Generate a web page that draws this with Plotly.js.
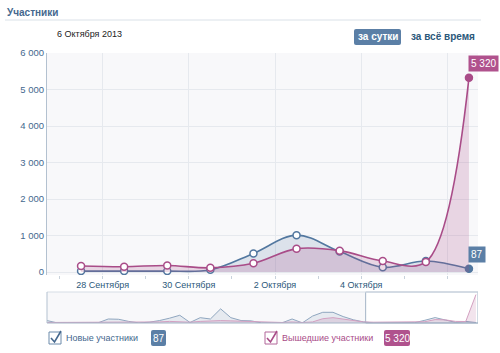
<!DOCTYPE html>
<html>
<head>
<meta charset="utf-8">
<script src="https://cdn.plot.ly/plotly-3.0.1.min.js"></script>
<style>html,body{margin:0;padding:0;background:#fff;}#chart{width:500px;height:353px;}</style>
</head>
<body>
<div id="chart"></div>
<script>
// ---- data ----
const days = ['27 Сентября','28 Сентября','29 Сентября','30 Сентября','1 Октября','2 Октября','3 Октября','4 Октября','5 Октября','6 Октября'];
const newMembers  = [25, 25, 25, 60, 510, 1010, 560, 130, 300, 87];
const leftMembers = [165, 145, 180, 115, 240, 640, 585, 300, 275, 5320];
const tickPos   = [0.5, 2.5, 4.5, 6.5, 8.5];
const tickLabels = ['28 Сентября', '30 Сентября', '2 Октября', '4 Октября', ''];
const yTicks = [0, 1000, 2000, 3000, 4000, 5000, 6000];
// navigator history (33 days before the shown window)
const navNewHistory  = [460, 20, 20, 20, 20, 30, 750, 700, 300, 20, 150, 450, 900, 1450, 100, 1000, 750, 2650, 1000, 460, 400, 20, 20, 20, 750, 20, 1300, 2000, 2000, 1200, 600, 200, 20];
const navLeftHistory = [100, 100, 100, 100, 100, 100, 120, 120, 100, 100, 150, 200, 300, 250, 150, 300, 400, 450, 400, 350, 300, 150, 100, 100, 200, 100, 200, 800, 1000, 700, 400, 200, 150];

const navNew = navNewHistory.concat(newMembers);
const navLeft = navLeftHistory.concat(leftMembers);
const xi = days.map((d, i) => i);
const navX = navNew.map((d, i) => i);

const BLUE = '#52779f', PINK = '#a94c88';
const W = 500, H = 353;
const px = x => x / W, py = y => 1 - y / H;
const FONT = 'Liberation Sans, Arial, sans-serif';
const fmt = v => String(v).replace(/\B(?=(\d{3})+(?!\d))/g, ' ');

function roundRect(x0, y0, x1, y1, r) {
  const rx = r / W, ry = r / H;
  const a = px(x0), b = px(x1), t = py(y0), u = py(y1);
  return `M ${a+rx},${t} L ${b-rx},${t} Q ${b},${t} ${b},${t-ry} L ${b},${u+ry} Q ${b},${u} ${b-rx},${u} L ${a+rx},${u} Q ${a},${u} ${a},${u+ry} L ${a},${t-ry} Q ${a},${t} ${a+rx},${t} Z`;
}
function ptPath(pts) {
  return 'M ' + pts.map(p => px(p[0]) + ',' + py(p[1])).join(' L ');
}

const lastIdx = days.length - 1;
const traces = [
  {x: xi, y: newMembers, type: 'scatter', mode: 'lines+markers', name: 'Новые участники',
   line: {color: BLUE, width: 1.6, shape: 'spline', smoothing: 1},
   fill: 'tozeroy', fillcolor: 'rgba(82,119,159,0.17)',
   marker: {size: 7, color: xi.map(i => i === lastIdx ? BLUE : '#fff'), line: {color: BLUE, width: 1.5}},
   xaxis: 'x', yaxis: 'y', hoverinfo: 'skip'},
  {x: xi, y: leftMembers, type: 'scatter', mode: 'lines+markers', name: 'Вышедшие участники',
   line: {color: PINK, width: 1.6, shape: 'spline', smoothing: 1},
   fill: 'tozeroy', fillcolor: 'rgba(169,76,136,0.2)',
   marker: {size: 7, color: xi.map(i => i === lastIdx ? PINK : '#fff'), line: {color: PINK, width: 1.5}},
   xaxis: 'x', yaxis: 'y', hoverinfo: 'skip'},
  {x: navX, y: navNew, type: 'scatter', mode: 'lines',
   line: {color: '#8fa6bf', width: 1}, fill: 'tozeroy', fillcolor: 'rgba(82,119,159,0.10)',
   xaxis: 'x2', yaxis: 'y2', hoverinfo: 'skip'},
  {x: navX, y: navLeft, type: 'scatter', mode: 'lines',
   line: {color: '#d3a0c1', width: 1}, fill: 'tozeroy', fillcolor: 'rgba(169,76,136,0.15)',
   xaxis: 'x2', yaxis: 'y2', hoverinfo: 'skip'}
];

const layout = {
  width: W, height: H,
  margin: {l: 0, r: 0, t: 0, b: 0},
  paper_bgcolor: '#fff', plot_bgcolor: '#f8f8fa',
  showlegend: false,
  separators: '. ',
  font: {family: FONT, size: 9, color: '#45688e'},
  xaxis: {domain: [px(47), px(478)], range: [-0.79, 9.21], anchor: 'y',
    tickvals: tickPos, ticktext: tickLabels, showgrid: true, gridcolor: '#e6e9ee', gridwidth: 1,
    ticks: 'outside', ticklen: 3, tickcolor: '#c8d2dc', zeroline: false, showline: false,
    ticklabelstandoff: -2,
    tickfont: {family: FONT, size: 9, color: '#2b587a'},
    minor: {dtick: 1, tick0: 0.5, ticks: 'outside', ticklen: 3, tickcolor: '#c8d2dc', showgrid: false}},
  yaxis: {domain: [py(275), py(53)], range: [-82, 6000], anchor: 'x',
    tickvals: yTicks, tickformat: ',d', showgrid: true, gridcolor: '#e6e9ee', gridwidth: 1,
    zeroline: false, showline: true, linecolor: '#b3c1d0', linewidth: 1, ticks: '',
    tickfont: {family: FONT, size: 9.5, color: '#45688e'}},
  xaxis2: {domain: [px(47), px(478)], range: [0, 42.2], anchor: 'y2',
    showgrid: false, zeroline: false, showticklabels: false, ticks: '', showline: false},
  yaxis2: {domain: [py(323), py(292)], range: [0, 5800], anchor: 'x2',
    showgrid: false, zeroline: false, showticklabels: false, ticks: '', showline: false},
  shapes: [
    {type: 'line', xref: 'paper', yref: 'paper', x0: px(5), x1: px(481), y0: py(20), y1: py(20), line: {color: '#dae1e8', width: 1}},
    {type: 'path', xref: 'paper', yref: 'paper', path: roundRect(354, 29, 401, 45, 2), fillcolor: '#5b7fa6', line: {width: 0}},
    {type: 'rect', xref: 'x2', yref: 'paper', x0: 31.2, x1: 42.2, y0: py(323), y1: py(292), fillcolor: '#ffffff', line: {color: '#a3b4c6', width: 1}, layer: 'below'},
    {type: 'line', xref: 'paper', yref: 'paper', x0: px(47), x1: px(478), y0: py(292), y1: py(292), line: {color: '#d6dde5', width: 1}},
    {type: 'line', xref: 'paper', yref: 'paper', x0: px(47), x1: px(478), y0: py(323), y1: py(323), line: {color: '#a3b4c6', width: 1}},
    {type: 'line', xref: 'paper', yref: 'paper', x0: px(47), x1: px(47), y0: py(292), y1: py(323), line: {color: '#b3c1d0', width: 1}},
    {type: 'rect', xref: 'paper', yref: 'paper', x0: px(49), x1: px(61), y0: py(344), y1: py(332), fillcolor: '#fff', line: {color: '#6d8bab', width: 1}},
    {type: 'path', xref: 'paper', yref: 'paper', path: ptPath([[51, 338], [54.5, 342], [61, 331]]), line: {color: '#45688e', width: 1.6}},
    {type: 'rect', xref: 'paper', yref: 'paper', x0: px(265), x1: px(277), y0: py(344), y1: py(332), fillcolor: '#fff', line: {color: '#b2679a', width: 1}},
    {type: 'path', xref: 'paper', yref: 'paper', path: ptPath([[267, 338], [270.5, 342], [277, 331]]), line: {color: PINK, width: 1.6}},
    {type: 'path', xref: 'paper', yref: 'paper', path: roundRect(151, 330, 166, 346, 2), fillcolor: '#5b7fa6', line: {width: 0}},
    {type: 'path', xref: 'paper', yref: 'paper', path: roundRect(384, 330, 410, 346, 2), fillcolor: '#b0528d', line: {width: 0}}
  ],
  annotations: [
    {xref: 'paper', yref: 'paper', x: px(5), y: py(12.5), xanchor: 'left', yanchor: 'middle', showarrow: false,
     text: '<b>Участники</b>', font: {family: FONT, size: 10, color: '#45688e'}},
    {xref: 'paper', yref: 'paper', x: px(55), y: py(34), xanchor: 'left', yanchor: 'middle', showarrow: false,
     text: '6 Октября 2013', font: {family: FONT, size: 9, color: '#222'}},
    {xref: 'paper', yref: 'paper', x: px(377.5), y: py(37), xanchor: 'center', yanchor: 'middle', showarrow: false,
     text: '<b>за сутки</b>', font: {family: FONT, size: 10, color: '#fff'}},
    {xref: 'paper', yref: 'paper', x: px(442.5), y: py(37), xanchor: 'center', yanchor: 'middle', showarrow: false,
     text: '<b>за всё время</b>', font: {family: FONT, size: 10, color: '#2b587a'}},
    {xref: 'x', yref: 'y', x: lastIdx, y: leftMembers[lastIdx], xanchor: 'left', yanchor: 'bottom', xshift: -1, yshift: 6,
     showarrow: false, text: fmt(leftMembers[lastIdx]), bgcolor: '#b0528d', borderpad: 2,
     font: {family: FONT, size: 10, color: '#fff'}},
    {xref: 'x', yref: 'y', x: lastIdx, y: newMembers[lastIdx], xanchor: 'left', yanchor: 'bottom', xshift: -1, yshift: 6,
     showarrow: false, text: fmt(newMembers[lastIdx]), bgcolor: '#5b7fa6', borderpad: 2,
     font: {family: FONT, size: 10, color: '#fff'}},
    {xref: 'paper', yref: 'paper', x: px(64), y: py(338), xanchor: 'left', yanchor: 'middle', showarrow: false,
     text: 'Новые участники', font: {family: FONT, size: 9, color: '#45688e'}},
    {xref: 'paper', yref: 'paper', x: px(158.5), y: py(338), xanchor: 'center', yanchor: 'middle', showarrow: false,
     text: fmt(newMembers[lastIdx]), font: {family: FONT, size: 10, color: '#fff'}},
    {xref: 'paper', yref: 'paper', x: px(280), y: py(338), xanchor: 'left', yanchor: 'middle', showarrow: false,
     text: 'Вышедшие участники', font: {family: FONT, size: 9, color: PINK}},
    {xref: 'paper', yref: 'paper', x: px(397), y: py(338), xanchor: 'center', yanchor: 'middle', showarrow: false,
     text: fmt(leftMembers[lastIdx]), font: {family: FONT, size: 10, color: '#fff'}}
  ]
};

Plotly.newPlot('chart', traces, layout, {staticPlot: true, displayModeBar: false});
</script>
</body>
</html>
